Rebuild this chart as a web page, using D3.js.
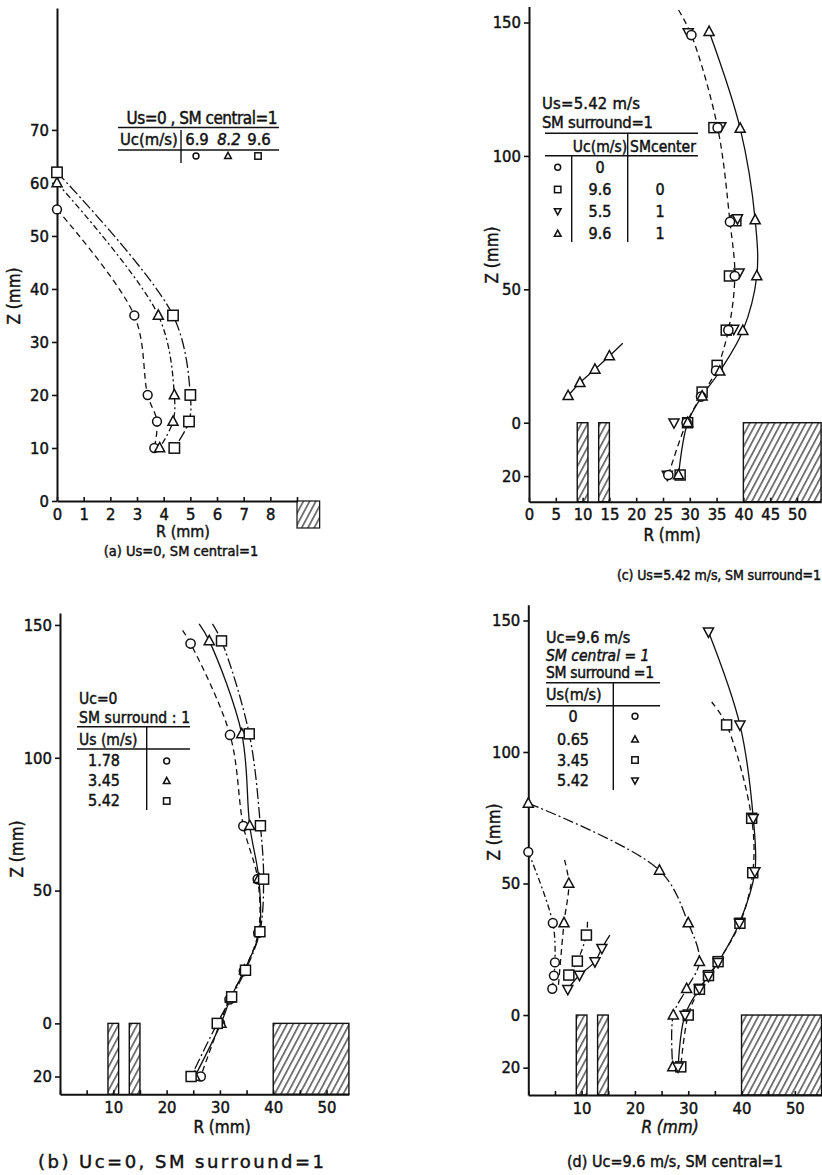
<!DOCTYPE html>
<html><head><meta charset="utf-8">
<script src="https://cdn.jsdelivr.net/npm/d3@7"></script>
<style>
body{margin:0;background:#fff}
svg text{font-family:"DejaVu Sans Condensed","DejaVu Sans",sans-serif;fill:#111;font-stretch:condensed;
  stroke:#111;stroke-width:0.45px;paint-order:stroke}
svg text.wide{font-family:"DejaVu Sans",sans-serif;font-stretch:normal}
</style></head><body>
<svg id="fig" width="822" height="1175"></svg>
<script>
// ---------- data: [R (mm), Z (mm)] ----------
// (a) Us = 0, SM central = 1
const aCircle   = [[0,55],[2.9,35],[3.4,20],[3.75,15],[3.65,10]];
const aTriangle = [[0,60],[3.8,35],[4.4,20],[4.35,15],[3.85,10]];
const aSquare   = [[0,62],[4.35,35],[5.0,20],[4.95,15],[4.4,10]];
const aUc       = ["6.9","8.2","9.6"];

// (b) Uc = 0, SM surround = 1
const bCircle   = [[24.5,143],[31.9,108.6],[34.4,74.3],[37.1,54.3],[37.2,34.1],[34.5,19.7],[31.8,9],[30.0,0],[26.4,-20]];
const bTriangle = [[28.0,144],[34.1,109],[35.6,74.4],[37.3,54.5],[37.4,34.5],[34.6,20],[32.0,9.5],[30.2,0],[25.3,-20]];
const bSquare   = [[30.3,144],[35.5,109],[37.6,74.4],[38.2,54.3],[37.5,34.5],[34.8,20],[32.2,10],[29.5,0],[24.6,-20]];
const bLineTops = [[23,148],[26.1,150.4],[28.6,150.4]];
const bUs       = ["1.78","3.45","5.42"];

// (c) Us = 5.42 m/s, SM surround = 1
const cCircle   = [[30.3,145.3],[35.2,110.6],[37.5,75.3],[38.4,55],[37.2,34.7],[34.9,19.5],[32.1,9.8],[29.4,0],[26.0,-19.6]];
const cCircleTop = [27.9,154.7];
const cSquare   = [[34.5,110.6],[38.6,75.7],[37.4,55],[36.8,34.7],[35.1,21.5],[32.3,11.5],[29.6,0],[28.2,-19.6]];
const cInvTri   = [[29.7,146.2],[35.8,111],[38.9,76.5],[39.2,56.2],[38.2,35.1],[27.05,0],[25.8,-19.6]];
const cTriangle = [[33.6,146.6],[39.4,110.3],[42.2,76],[42.5,55],[39.9,34.5],[35.6,19.3],[32.3,10],[29.6,0],[27.9,-19.6]];
const cTriangleInner = [[7.3,10.1],[9.5,15],[12.3,20],[15,25]];
const cTriangleInnerEnd = [17.5,29.8];
const cUc       = ["0","9.6","5.5","9.6"];
const cSMcenter = ["","0","1","1"];

// (d) Uc = 9.6 m/s, SM central = 1
const dCircle        = [[0,62],[4.6,35],[5.0,20],[4.8,15],[4.5,10]];
const dTriangleOuter = [[0,80.5],[24.6,55],[30,35],[32.1,20.3],[29.7,10],[27.2,0],[27.1,-19.7]];
const dTriangleInner = [[7.6,50],[6.7,35]];
const dTriangleInnerEnds = [[6.8,59],[5.6,10]];
const dSquareInner   = [[10.9,30.4],[9.2,20.5],[7.6,15.2]];
const dSquareInnerTop = [11.1,35.5];
const dSquareOuter   = [[37.2,110.3],[41.9,74.8],[42.1,54.1],[39.7,34.9],[35.6,20.3],[33.8,15],[32.1,9.8],[30,0],[28.6,-19.7]];
const dSquareOuterTop = [34.4,119];
const dInvTriInner   = [[7.4,9.8],[9.6,15.2],[12.5,20.3],[13.8,25.4]];
const dInvTriInnerEnd = [15.3,30.4];
const dInvTriOuter   = [[33.8,145.7],[39.7,110.3],[42.2,74.8],[42.5,54.5],[39.6,35],[35.6,20],[33.8,14.8],[32.1,10],[29.4,0],[28.1,-19.7]];
const dUs            = ["0","0.65","3.45","5.42"];

// nozzle walls (R ranges, mm)
const nozzleWalls = [[9,11],[13,15]];
const outerWallR = 40;

// ---------- drawing ----------
const svg = d3.select("#fig");
svg.append("rect").attr("width",822).attr("height",1175).attr("fill","#fff");
const defs = svg.append("defs");
const pat = defs.append("pattern").attr("id","hatch").attr("patternUnits","userSpaceOnUse")
  .attr("width",5.5).attr("height",10).attr("patternTransform","rotate(28)");
pat.append("line").attr("x1",2.7).attr("y1",0).attr("x2",2.7).attr("y2",10)
  .attr("stroke","#111").attr("stroke-width",1.1);

const DASH = {solid:null, dashed:"6,4", dashdot:"11,3,2,3", dashdotShort:"6,3,2,3", dotted:"2.5,3"};
const INK = "#111";

function makePanel(xd, xr, yd, yr){
  const g = svg.append("g");
  return {g, x:d3.scaleLinear().domain(xd).range(xr), y:d3.scaleLinear().domain(yd).range(yr), yd};
}

function axes(p, xTicks, xFmt, yTicks, yFmt, fs){
  const ya = d3.axisLeft(p.y).tickValues(yTicks).tickFormat(yFmt).tickSize(5).tickSizeOuter(0).tickPadding(3);
  const gy = p.g.append("g").attr("transform",`translate(${p.x(0)},0)`).call(ya);
  const xa = d3.axisBottom(p.x).tickValues(xTicks).tickFormat(xFmt).tickSizeInner(-4).tickSizeOuter(0).tickPadding(7);
  const gx = p.g.append("g").attr("transform",`translate(0,${p.y(p.yd[0])})`).call(xa);
  [gy,gx].forEach(a=>{
    a.select(".domain").attr("stroke",INK).attr("stroke-width",2);
    a.selectAll(".tick line").attr("stroke",INK).attr("stroke-width",1.6);
    a.selectAll("text").style("font-size",fs+"px").attr("fill",INK);
  });
}

function walls(p, xMax){
  const yb = p.y(p.yd[0]), y0 = p.y(0);
  nozzleWalls.concat([[outerWallR, xMax]]).forEach(([r0,r1])=>{
    p.g.append("rect").attr("x",p.x(r0)).attr("y",y0).attr("width",p.x(r1)-p.x(r0)).attr("height",yb-y0)
      .attr("fill","url(#hatch)").attr("stroke",INK).attr("stroke-width",1.4);
  });
}

function curve(p, pts, dash, w){
  const line = d3.line().x(d=>p.x(d[0])).y(d=>p.y(d[1])).curve(d3.curveCatmullRom.alpha(0.5));
  p.g.append("path").datum(pts).attr("d",line).attr("fill","none").attr("stroke",INK)
    .attr("stroke-width",w||1.3).attr("stroke-dasharray",DASH[dash]);
}

function shape(g, kind, cx, cy, s){
  let el;
  if(kind==="circle") el = g.append("circle").attr("cx",cx).attr("cy",cy).attr("r",s*0.92);
  else if(kind==="square") el = g.append("rect").attr("x",cx-s).attr("y",cy-s).attr("width",2*s).attr("height",2*s);
  else if(kind==="tri") el = g.append("path").attr("d",`M${cx},${cy-s*1.15}L${cx+s*1.05},${cy+s*0.8}L${cx-s*1.05},${cy+s*0.8}Z`);
  else el = g.append("path").attr("d",`M${cx},${cy+s*1.15}L${cx+s*1.05},${cy-s*0.8}L${cx-s*1.05},${cy-s*0.8}Z`);
  el.attr("fill","#fff").attr("stroke",INK).attr("stroke-width",1.5);
}

function marks(p, pts, kind, s){
  pts.forEach(d=>shape(p.g, kind, p.x(d[0]), p.y(d[1]), s||5));
}

function text(x, y, str, fs, anchor, extra){
  const t = svg.append("text").attr("x",x).attr("y",y).attr("text-anchor",anchor||"start")
    .style("font-size",fs+"px").text(str);
  if(extra) extra(t);
  return t;
}
function spread(len){ return t=>t.attr("textLength",len).attr("lengthAdjust","spacing"); }
function hline(x1,x2,y){ svg.append("line").attr("x1",x1).attr("x2",x2).attr("y1",y).attr("y2",y).attr("stroke",INK).attr("stroke-width",1.6); }
function vline(x,y1,y2){ svg.append("line").attr("x1",x).attr("x2",x).attr("y1",y1).attr("y2",y2).attr("stroke",INK).attr("stroke-width",1.4); }
function zLabel(x, y){
  svg.append("text").attr("transform",`translate(${x},${y}) rotate(-90)`).attr("text-anchor","middle")
    .style("font-size","17px").text("Z (mm)");
}

const TICK = 16.5;

// ===== (a) =====
const A = makePanel([0,9],[57,297],[0,93],[501,8]);
A.g.append("rect").attr("x",A.x(9)).attr("y",A.y(0)).attr("width",A.x(9.85)-A.x(9)).attr("height",27)
  .attr("fill","url(#hatch)").attr("stroke",INK).attr("stroke-width",1.2);
axes(A, d3.range(0,10), d=>d<9?d:"", d3.range(0,80,10), d=>d, TICK);
curve(A, aCircle, "dashed");
curve(A, aTriangle, "dashdotShort");
curve(A, aSquare, "dashdot");
marks(A, aCircle, "circle", 4.8);
marks(A, aTriangle, "tri", 4.8);
marks(A, aSquare, "square", 5.2);
zLabel(20, 296);
text(183, 537, "R (mm)", 16, "middle");
text(181, 556, "(a)  Us=0, SM central=1", 14.5, "middle");
text(202, 124, "Us=0 , SM central=1", 17, "middle", spread(151));
hline(118, 279, 127.5);
text(120, 145, "Uc(m/s)", 16.5);
[197,229,259].forEach((cx,i)=>text(cx, 145, aUc[i], 16.5, "middle", t=>{ if(i===1) t.style("font-style","italic"); }));
hline(118, 279, 150);
vline(181, 130, 163);
["circle","tri","square"].forEach((k,i)=>shape(svg, k, [196,228,258][i], 156, 3.2));

// ===== (b) =====
const B = makePanel([0,54.2],[60,348.9],[-26.7,154.5],[1094.3,613]);
walls(B, 54.2);
axes(B, d3.range(0,55,5), d=>d>0&&d%10===0?d:"", [150,100,50,0,-20], d=>Math.abs(d), TICK);
curve(B, [bLineTops[0]].concat(bCircle), "dashed");
curve(B, [bLineTops[1]].concat(bTriangle), "solid");
curve(B, [bLineTops[2]].concat(bSquare), "dashdot");
marks(B, bCircle, "circle", 5);
marks(B, bTriangle, "tri", 4.8);
marks(B, bSquare, "square", 5);
zLabel(23, 849);
text(222, 1133, "R (mm)", 17, "middle");
text(181, 1168, "(b)  Uc=0, SM surround=1", 18, "middle", t=>{ t.classed("wide",true); spread(286)(t); });
text(79, 704, "Uc=0", 15.5);
text(79, 723, "SM surround : 1", 15.5, null, spread(111));
hline(77, 190, 726.7);
text(79, 745, "Us (m/s)", 15.5);
hline(77, 190, 749);
vline(146.7, 727, 810);
bUs.forEach((v,i)=>{
  text(104, [766,786,806][i], v, 16, "middle");
  shape(svg, ["circle","tri","square"][i], 166.7, [761,781,801][i], 3.2);
});

// ===== (c) =====
const C = makePanel([0,54.5],[529,821.1],[-29.6,156],[501.7,6.5]);
walls(C, 54.5);
axes(C, d3.range(0,55,5), d=>d, [150,100,50,0,-20], d=>Math.abs(d), TICK);
curve(C, [cCircleTop].concat(cCircle), "dashed");
curve(C, cTriangle, "solid");
curve(C, cTriangleInner.concat([cTriangleInnerEnd]), "solid");
marks(C, cSquare, "square", 5);
marks(C, cInvTri, "inv", 4.8);
marks(C, cCircle, "circle", 5);
marks(C, cTriangle, "tri", 4.8);
marks(C, cTriangleInner, "tri", 4.8);
zLabel(498, 255);
text(672, 541, "R (mm)", 17, "middle");
text(719, 580, "(c)  Us=5.42 m/s, SM surround=1", 14, "middle", spread(204));
text(542, 109, "Us=5.42 m/s", 16.5, null, spread(98));
text(542, 128, "SM surround=1", 16.5, null, spread(111));
hline(545, 698, 133.3);
text(600, 152, "Uc(m/s)", 15.5, "middle");
text(663, 152, "SMcenter", 15.5, "middle");
hline(545, 698, 155.7);
vline(571.7, 156, 242);
vline(627.7, 133, 242);
cUc.forEach((v,i)=>{
  const yy=[172.7,195,216.7,239.3][i];
  text(600, yy, v, 16, "middle");
  text(660, yy, cSMcenter[i], 16, "middle");
  shape(svg, ["circle","square","inv","tri"][i], 557.7, yy-5.5, 3.2);
});

// ===== (d) =====
const D = makePanel([0,55],[528.3,821.5],[-30.4,156],[1095,604.7]);
walls(D, 55);
axes(D, d3.range(0,55,5), d=>d>0&&d%10===0?d:"", [150,100,50,0,-20], d=>Math.abs(d), TICK);
curve(D, dCircle, "dashdotShort");
curve(D, dTriangleOuter, "dashdot");
curve(D, [dTriangleInnerEnds[0]].concat(dTriangleInner,[dTriangleInnerEnds[1]]), "dashed");
curve(D, [dSquareInnerTop].concat(dSquareInner), "dashdotShort");
curve(D, [dSquareOuterTop].concat(dSquareOuter), "dashed");
curve(D, dInvTriInner.concat([dInvTriInnerEnd]), "solid");
curve(D, dInvTriOuter, "solid");
marks(D, dCircle, "circle", 4.8);
marks(D, dTriangleOuter, "tri", 4.8);
marks(D, dTriangleInner, "tri", 4.8);
marks(D, dSquareInner, "square", 5);
marks(D, dSquareOuter, "square", 5);
marks(D, dInvTriInner, "inv", 4.8);
marks(D, dInvTriOuter, "inv", 4.8);
zLabel(500, 832);
text(670, 1133, "R (mm)", 17, "middle", t=>t.style("font-style","italic"));
text(675, 1167, "(d) Uc=9.6 m/s, SM central=1", 16, "middle", spread(216));
text(546, 643, "Uc=9.6 m/s", 16);
text(546, 661, "SM central = 1", 15.5, null, t=>t.style("font-style","italic"));
text(546, 678, "SM surround =1", 15.5, null, spread(108));
hline(546, 660, 682.7);
text(546, 700, "Us(m/s)", 16);
hline(546, 660, 705.7);
vline(613.3, 683, 790);
dUs.forEach((v,i)=>{
  const yy=[721.7,745,765.5,786][i];
  text(573, yy, v, 16, "middle");
  shape(svg, ["circle","tri","square","inv"][i], 635, yy-5.5, 3.2);
});
</script></body></html>
